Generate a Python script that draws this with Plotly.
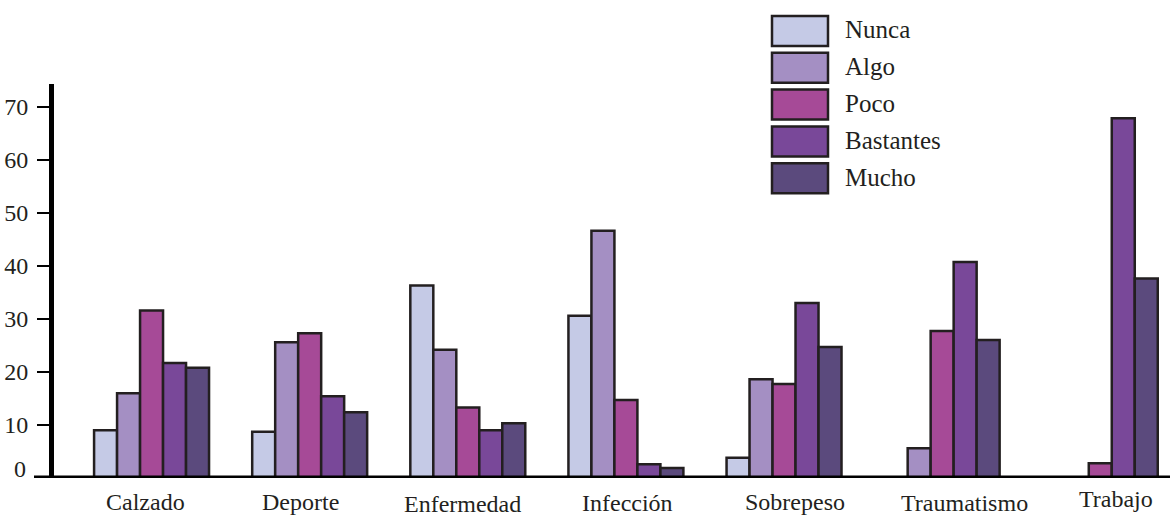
import plotly.graph_objects as go

categories = ["Calzado", "Deporte", "Enfermedad", "Infección", "Sobrepeso", "Traumatismo", "Trabajo"]
series_names = ["Nunca", "Algo", "Poco", "Bastantes", "Mucho"]
nunca = [9.0, 8.7, 36.3, 30.6, 3.8, 0, 0]
algo = [16.0, 25.6, 24.2, 46.6, 18.6, 5.6, 0]
poco = [31.6, 27.3, 13.3, 14.7, 17.7, 27.7, 2.8]
bastantes = [21.7, 15.4, 9.0, 2.6, 33.0, 40.7, 67.8]
mucho = [20.8, 12.4, 10.3, 1.9, 24.7, 26.0, 37.6]
y_ticks = [10, 20, 30, 40, 50, 60, 70]

series_values = [nunca, algo, poco, bastantes, mucho]
colors = ["#c5cae6", "#a48fc3", "#a64a97", "#794899", "#5b4a7d"]
outline = "#231f20"
font_family = "Liberation Serif"

W, H = 1173, 517
L, R, T, B = 54, 3, 84, 39
PW = W - L - R
PH = H - T - B


def px_x(p):
    return (p - L) / PW


def px_y(p):
    return (H - B - p) / PH


fig = go.Figure()
for name, vals, col in zip(series_names, series_values, colors):
    fig.add_trace(go.Bar(
        x=categories, y=vals, name=name,
        marker=dict(color=col, line=dict(color=outline, width=2.5)),
        showlegend=False,
    ))

shapes = []
annotations = []

# baseline (x axis) extending left of the y axis
shapes.append(dict(type="line", xref="paper", yref="y", x0=px_x(34), x1=1.0, y0=0, y1=0,
                   line=dict(color="black", width=5), layer="above"))

# custom legend
for i, (name, col) in enumerate(zip(series_names, colors)):
    cy = 31 + 36.8 * i
    shapes.append(dict(type="rect", xref="paper", yref="paper",
                       x0=px_x(772), x1=px_x(828), y0=px_y(cy + 15), y1=px_y(cy - 15),
                       fillcolor=col, line=dict(color=outline, width=2.5)))
    annotations.append(dict(xref="paper", yref="paper", x=px_x(843), y=px_y(cy - 1),
                            xanchor="left", yanchor="middle", text=name, showarrow=False,
                            font=dict(family=font_family, size=25, color=outline)))

# category labels
label_shift = [-6, -9, -5, 2, 11, 22, 16]
label_center_y = [502, 502, 504, 503, 502, 503, 499]
for cat, xs, cy in zip(categories, label_shift, label_center_y):
    annotations.append(dict(xref="x", yref="paper", x=cat, y=px_y(cy), xshift=xs,
                            xanchor="center", yanchor="middle", text=cat, showarrow=False,
                            font=dict(family=font_family, size=24, color=outline)))

# zero label
annotations.append(dict(xref="paper", yref="y", x=px_x(28), y=0, yshift=9.5,
                        xanchor="right", yanchor="middle", text="0", showarrow=False,
                        font=dict(family=font_family, size=24, color=outline)))

fig.update_layout(
    width=W, height=H,
    margin=dict(l=L, r=R, t=T, b=B, pad=0),
    paper_bgcolor="white", plot_bgcolor="white",
    barmode="group", bargap=0.273, bargroupgap=0,
    shapes=shapes, annotations=annotations,
    xaxis=dict(type="category", range=[-0.617, 6.441], showticklabels=False,
               showline=False, showgrid=False, zeroline=False, ticks=""),
    yaxis=dict(range=[0, 74.28], tickvals=y_ticks, ticktext=[str(v) for v in y_ticks],
               showgrid=False, zeroline=False, showline=True, linecolor="black", linewidth=5,
               ticks="outside", ticklen=12, tickwidth=2, tickcolor="black",
               ticklabelstandoff=4,
               tickfont=dict(family=font_family, size=24, color=outline)),
    font=dict(family=font_family),
)

fig.write_html("out.html", config={"displayModeBar": False},
               post_script="document.body.style.margin='0px';document.body.style.overflow='hidden';")
